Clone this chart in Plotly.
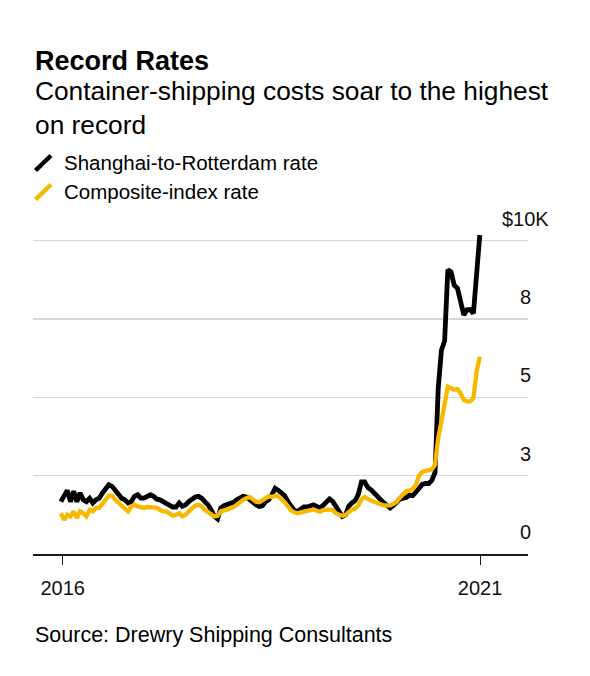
import pandas as pd
import plotly.graph_objects as go

# ---- data (thousands of US$ per 40ft container), biweekly readings ----
dates = pd.date_range("2015-12-24", periods=132, freq="14D")

shanghai_rotterdam = [
    1.67, 1.84, 2.03, 1.67, 2.00, 1.67, 1.95, 1.73, 1.67, 1.78,
    1.63, 1.73, 1.78, 1.95, 2.10, 2.21, 2.16, 2.05, 1.89, 1.78,
    1.73, 1.63, 1.67, 1.84, 1.89, 1.78, 1.78, 1.84, 1.89, 1.84,
    1.75, 1.73, 1.67, 1.63, 1.57, 1.50, 1.50, 1.63, 1.52, 1.57,
    1.67, 1.75, 1.82, 1.84, 1.78, 1.67, 1.57, 1.41, 1.20, 1.12,
    1.47, 1.54, 1.57, 1.63, 1.65, 1.73, 1.78, 1.84, 1.82, 1.73,
    1.65, 1.57, 1.52, 1.54, 1.67, 1.73, 1.89, 2.10, 2.03, 1.95,
    1.86, 1.67, 1.52, 1.39, 1.36, 1.43, 1.50, 1.50, 1.55, 1.57,
    1.52, 1.47, 1.55, 1.68, 1.76, 1.68, 1.52, 1.35, 1.20, 1.25,
    1.52, 1.63, 1.70, 1.90, 2.30, 2.30, 2.12, 2.05, 1.94, 1.82,
    1.73, 1.63, 1.55, 1.47, 1.55, 1.68, 1.75, 1.78, 1.80, 1.88,
    1.86, 1.97, 2.12, 2.22, 2.25, 2.25, 2.35, 2.60, 5.30, 6.50,
    6.80, 9.07, 9.00, 8.58, 8.48, 8.00, 7.63, 7.79, 7.80, 7.68,
    9.00, 10.18,
]

composite_index = [
    1.30, 1.09, 1.25, 1.20, 1.36, 1.15, 1.36, 1.30, 1.20, 1.41,
    1.36, 1.47, 1.47, 1.63, 1.73, 1.86, 1.86, 1.73, 1.63, 1.52,
    1.43, 1.36, 1.52, 1.57, 1.52, 1.50, 1.47, 1.50, 1.50, 1.50,
    1.47, 1.41, 1.36, 1.36, 1.28, 1.22, 1.25, 1.30, 1.20, 1.25,
    1.36, 1.47, 1.54, 1.57, 1.52, 1.41, 1.33, 1.25, 1.20, 1.22,
    1.36, 1.39, 1.41, 1.47, 1.50, 1.57, 1.67, 1.73, 1.78, 1.82,
    1.75, 1.67, 1.65, 1.71, 1.78, 1.84, 1.82, 1.86, 1.84, 1.75,
    1.65, 1.52, 1.39, 1.33, 1.30, 1.33, 1.36, 1.38, 1.40, 1.42,
    1.38, 1.35, 1.40, 1.42, 1.42, 1.40, 1.30, 1.25, 1.22, 1.25,
    1.33, 1.42, 1.45, 1.55, 1.75, 1.82, 1.76, 1.70, 1.66, 1.63,
    1.58, 1.55, 1.55, 1.55, 1.60, 1.66, 1.80, 1.90, 2.00, 2.02,
    2.08, 2.20, 2.50, 2.62, 2.65, 2.65, 2.70, 2.85, 3.70, 4.23,
    4.76, 5.34, 5.29, 5.24, 5.27, 5.13, 4.92, 4.87, 4.87, 4.98,
    5.82, 6.30,
]

y_tick_vals = [0, 2.5, 5, 7.5, 10]
y_tick_text = ["0", "3", "5", "8", "$10K"]
x_tick_vals = ["2016-01-01", "2021-01-01"]
x_tick_text = ["2016", "2021"]

series_names = ["Shanghai-to-Rotterdam rate", "Composite-index rate"]
BLACK = "#000000"
YELLOW = "#F7B900"
FONT = "Liberation Sans, Arial, sans-serif"

fig = go.Figure()
fig.add_trace(go.Scatter(x=dates, y=shanghai_rotterdam, mode="lines",
                         name=series_names[0],
                         line=dict(color=BLACK, width=4.8)))
fig.add_trace(go.Scatter(x=dates, y=composite_index, mode="lines",
                         name=series_names[1],
                         line=dict(color=YELLOW, width=4.3)))

# plot area geometry (px)
L, R, T, B = 33, 62, 230, 122
W, H = 590, 676
plot_h = H - T - B
plot_w = W - L - R


def py(ypx):
    return (H - B - ypx) / plot_h


def px(xpx):
    return (xpx - L) / plot_w


fig.update_layout(
    width=W, height=H,
    margin=dict(l=L, r=R, t=T, b=B),
    paper_bgcolor="white", plot_bgcolor="white",
    showlegend=False,
    hovermode=False,
    font=dict(family=FONT, color="#000"),
    xaxis=dict(
        type="date",
        range=["2015-08-24", "2021-07-30"],
        tickvals=x_tick_vals, ticktext=x_tick_text,
        showgrid=False, zeroline=False,
        showline=True, linecolor="#1a1a1a", linewidth=2,
        ticks="outside", ticklen=9, tickwidth=1, tickcolor="#1a1a1a",
        tickfont=dict(size=20, family=FONT, color="#111"),
        ticklabelstandoff=6,
        fixedrange=True,
    ),
    yaxis=dict(
        range=[0, 10.34],
        tickvals=y_tick_vals,
        showticklabels=False,
        showgrid=True, gridcolor="#d6d6d6", gridwidth=1.5,
        zeroline=False, showline=False, ticks="",
        side="right",
        fixedrange=True,
    ),
)

ann = []
# Y tick labels, centered above each gridline
for v, t in zip(y_tick_vals, y_tick_text):
    ann.append(dict(x=px(525), xref="paper", y=v, yref="y", text=t,
                    showarrow=False, xanchor="center", yanchor="middle",
                    yshift=22, font=dict(size=20, family=FONT, color="#111")))

# Title / subtitle
ann.append(dict(x=px(33), xref="paper", y=py(61), yref="paper",
                text="<b>Record Rates</b>", showarrow=False,
                xanchor="left", yanchor="middle",
                font=dict(size=27, family=FONT, color="#000")))
ann.append(dict(x=px(33), xref="paper", y=py(108), yref="paper",
                text="Container-shipping costs soar to the highest<br>on record",
                showarrow=False, xanchor="left", yanchor="middle", align="left",
                font=dict(size=26.3, family=FONT, color="#000")))
# Legend labels
ann.append(dict(x=px(62), xref="paper", y=py(162), yref="paper",
                text=series_names[0], showarrow=False,
                xanchor="left", yanchor="middle",
                font=dict(size=20.5, family=FONT, color="#000")))
ann.append(dict(x=px(62), xref="paper", y=py(192), yref="paper",
                text=series_names[1], showarrow=False,
                xanchor="left", yanchor="middle",
                font=dict(size=20.5, family=FONT, color="#000")))
# Source
ann.append(dict(x=px(33), xref="paper", y=py(635), yref="paper",
                text="Source: Drewry Shipping Consultants", showarrow=False,
                xanchor="left", yanchor="middle",
                font=dict(size=21.5, family=FONT, color="#000")))
fig.update_layout(annotations=ann)

# Legend swatches (slashes)
fig.add_shape(type="line", xref="paper", yref="paper",
              x0=px(35.5), y0=py(170.5), x1=px(51), y1=py(155.5),
              line=dict(color=BLACK, width=4.5))
fig.add_shape(type="line", xref="paper", yref="paper",
              x0=px(35.5), y0=py(199.5), x1=px(51), y1=py(184.5),
              line=dict(color=YELLOW, width=4.5))

fig.write_html("out.html",
               config={"displayModeBar": False, "staticPlot": True},
               post_script="document.body.style.margin='0';"
                           "document.body.style.padding='0';")
